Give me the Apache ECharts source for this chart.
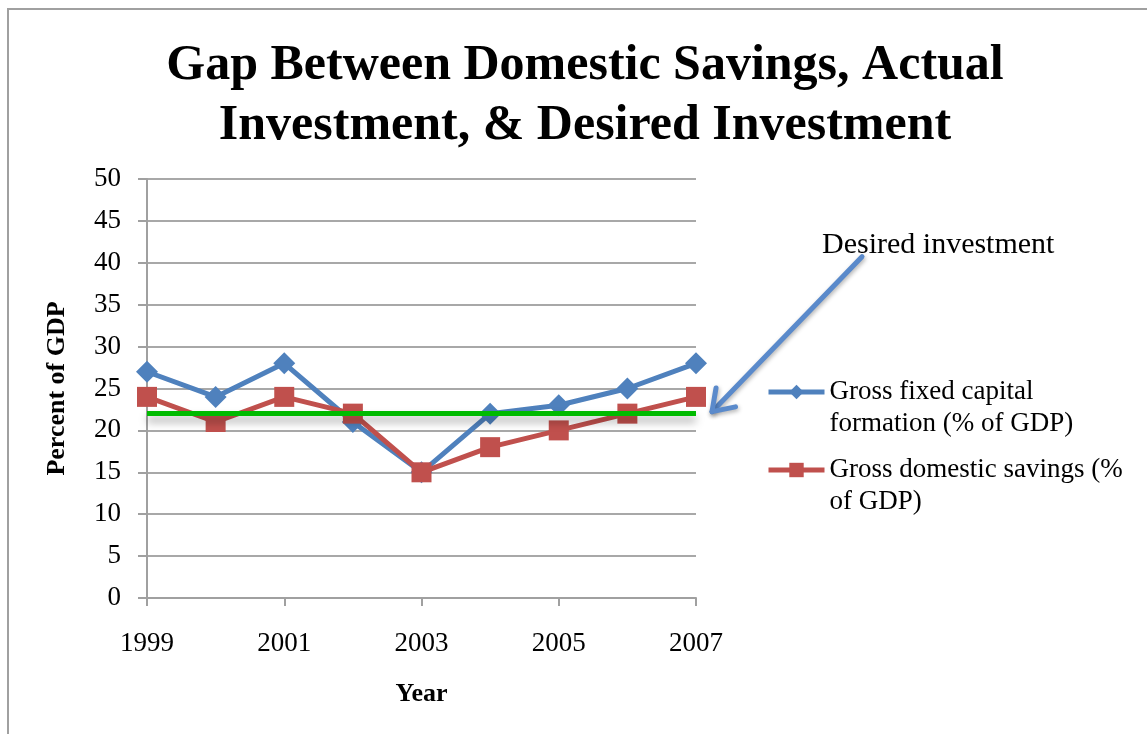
<!DOCTYPE html>
<html>
<head>
<meta charset="utf-8">
<script src="https://cdn.jsdelivr.net/npm/echarts@6/dist/echarts.min.js"></script>
<style>
html,body{margin:0;padding:0;background:#fff;}
#c{width:1147px;height:734px;}
</style>
</head>
<body>
<div id="c"></div>
<script>
var years = ['1999','2000','2001','2002','2003','2004','2005','2006','2007'];
var grossFixedCapital = [27, 24, 28, 21, 15, 22, 23, 25, 28];
var grossDomesticSavings = [24, 21, 24, 22, 15, 18, 20, 22, 24];
var desiredInvestment = 22;
var seriesNames = ['Gross fixed capital formation (% of GDP)', 'Gross domestic savings (% of GDP)'];
var legendLines = {
  'Gross fixed capital formation (% of GDP)': ['Gross fixed capital', 'formation (% of GDP)'],
  'Gross domestic savings (% of GDP)': ['Gross domestic savings (%', 'of GDP)']
};

var FONT = "'Liberation Serif','Times New Roman',serif";
var chart = echarts.init(document.getElementById('c'));

function legendCfg(name, top) {
  return {
    data: [name],
    orient: 'vertical',
    left: 766,
    top: top,
    padding: 0,
    itemWidth: 56,
    itemHeight: 18,
    selectedMode: false,
    lineStyle: { width: 5 },
    formatter: function (n) { return '\n' + legendLines[n].join('\n'); },
    textStyle: { fontFamily: FONT, fontSize: 27, lineHeight: 32, color: '#000' }
  };
}

var option = {
  backgroundColor: '#fff',
  animation: false,
  title: {
    text: 'Gap Between Domestic Savings, Actual\nInvestment, & Desired Investment',
    left: 580,
    top: 31,
    textAlign: 'center',
    textStyle: { fontFamily: FONT, fontSize: 50, fontWeight: 'bold', lineHeight: 60, color: '#000' }
  },
  legend: [legendCfg(seriesNames[0], 344), legendCfg(seriesNames[1], 422)],
  grid: { left: 147, right: 451, top: 179, bottom: 136, containLabel: false },
  xAxis: {
    type: 'category',
    data: years,
    boundaryGap: false,
    name: 'Year',
    nameLocation: 'middle',
    nameGap: 83,
    nameTextStyle: { fontFamily: FONT, fontSize: 26, fontWeight: 'bold', color: '#000' },
    axisLine: { lineStyle: { color: '#a0a0a0', width: 2 } },
    axisTick: { show: true, interval: 1, length: 8, lineStyle: { color: '#a0a0a0', width: 2 } },
    axisLabel: { interval: 1, margin: 32, fontFamily: FONT, fontSize: 27, color: '#000' },
    splitLine: { show: false }
  },
  yAxis: {
    type: 'value',
    min: 0, max: 50, interval: 5,
    name: 'Percent of GDP',
    nameLocation: 'middle',
    nameGap: 77,
    nameTextStyle: { fontFamily: FONT, fontSize: 26, fontWeight: 'bold', color: '#000' },
    axisLine: { show: true, lineStyle: { color: '#a0a0a0', width: 2 } },
    axisTick: { show: true, length: 9, lineStyle: { color: '#a0a0a0', width: 2 } },
    axisLabel: { margin: 26, fontFamily: FONT, fontSize: 27, color: '#000' },
    splitLine: { show: true, lineStyle: { color: '#a8a8a8', width: 2 } }
  },
  series: [
    {
      name: seriesNames[0],
      type: 'line',
      data: grossFixedCapital,
      symbol: 'diamond',
      symbolSize: 22,
      lineStyle: { color: '#4F81BD', width: 5 },
      itemStyle: { color: '#4F81BD' },
      z: 2
    },
    {
      name: seriesNames[1],
      type: 'line',
      data: grossDomesticSavings,
      symbol: 'rect',
      symbolSize: 20,
      lineStyle: { color: '#C0504D', width: 5 },
      itemStyle: { color: '#C0504D' },
      z: 3,
      markLine: {
        silent: true,
        symbol: 'none',
        label: { show: false },
        lineStyle: {
          type: 'solid', color: '#00BB00', width: 5,
          shadowColor: 'rgba(0,0,0,0.35)', shadowBlur: 8, shadowOffsetY: 6
        },
        data: [{ yAxis: desiredInvestment }]
      }
    }
  ]
};
chart.setOption(option);

// annotation arrow anchored to desired-investment level at the last year
var tip = chart.convertToPixel({ gridIndex: 0 }, [years.length - 1, desiredInvestment]);
var tx = tip[0] + 16, ty = tip[1] - 2;
var sx = tx + 150, sy = ty - 155;
var ang = Math.atan2(sy - ty, sx - tx);
var hl = 24, ha = 0.6;
var h1 = [tx + hl * Math.cos(ang + ha), ty + hl * Math.sin(ang + ha)];
var h2 = [tx + hl * Math.cos(ang - ha), ty + hl * Math.sin(ang - ha)];
var arrowStyle = { stroke: '#5A8ACB', lineWidth: 5, lineCap: 'round', lineJoin: 'round', fill: null,
  shadowColor: 'rgba(0,0,0,0.3)', shadowBlur: 4, shadowOffsetX: 1, shadowOffsetY: 2 };

chart.setOption({
  graphic: [
    { type: 'rect', z: -1, silent: true, shape: { x: 8, y: 9, width: 1300, height: 900 },
      style: { fill: null, stroke: '#a0a0a0', lineWidth: 2 } },
    { type: 'polyline', silent: true, shape: { points: [[sx, sy], [tx, ty]] }, style: arrowStyle },
    { type: 'polyline', silent: true, shape: { points: [h1, [tx, ty], h2] }, style: arrowStyle },
    { type: 'text', silent: true, x: 822, y: 245,
      style: { text: 'Desired investment', fontFamily: FONT, fontSize: 30, fill: '#000', verticalAlign: 'middle' } }
  ]
});
</script>
</body>
</html>
